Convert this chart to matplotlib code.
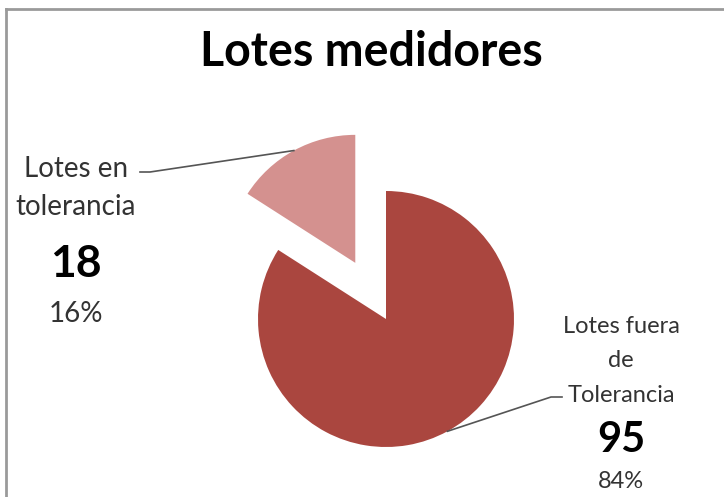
import math
import matplotlib
matplotlib.use('Agg')
import matplotlib.pyplot as plt
from matplotlib.lines import Line2D

# Datos
titulo = 'Lotes medidores'
etiquetas = ['Lotes en\ntolerancia', 'Lotes fuera\nde\nTolerancia']
valores = [18, 95]
colores = ['#D4918F', '#AA463F']

W, H = 724, 497
plt.rcParams['font.family'] = ['Lato', 'DejaVu Sans']

fig = plt.figure(figsize=(W / 100, H / 100), dpi=100)
ax = fig.add_axes([0, 0, 1, 1])


def py(y):
    # pasar coordenada de pixel (desde arriba) a coordenada del eje
    return H - y


radio = 128
centro = (386, py(319))
sep = 0.5 * radio

wedges, _ = ax.pie(valores, colors=colores, startangle=90, counterclock=True,
                   radius=radio, center=centro, explode=[sep, 0],
                   wedgeprops=dict(linewidth=0))
ax.set_xlim(0, W)
ax.set_ylim(0, H)
ax.set_aspect('auto')
ax.axis('off')

total = sum(valores)
gris = '#333333'

# posiciones de las etiquetas (centro x, lineas base y, tamanos de letra)
pos_texto = [
    (76, [177, 215], 277, 322, 20, 32),
    (621, [333, 367, 402], 452, 488, 17, 30),
]
# tramos de las lineas guia (codo, extremo junto al texto)
guias = [
    [(150, 172), (140, 172)],
    [(551, 397), (562, 397)],
]

for w, etq, val, (xc, ys, yn, yp, fs, fsn), guia in zip(wedges, etiquetas, valores, pos_texto, guias):
    for linea, yb in zip(etq.split('\n'), ys):
        ax.text(xc, py(yb), linea, ha='center', va='baseline', fontsize=fs, color=gris)
    ax.text(xc, py(yn), str(val), ha='center', va='baseline', fontsize=fsn,
            fontweight='bold', color='black')
    ax.text(xc, py(yp), f'{100 * val / total:.0f}%', ha='center', va='baseline',
            fontsize=fs, color=gris)
    # punto medio del arco de la porcion
    tm = math.radians((w.theta1 + w.theta2) / 2)
    cx, cy = w.center
    px = [cx + w.r * math.cos(tm)] + [p[0] for p in guia]
    pyy = [cy + w.r * math.sin(tm)] + [py(p[1]) for p in guia]
    ax.plot(px, pyy, color='#555555', lw=1.2)

ax.text(371, py(66), titulo, ha='center', va='baseline', fontsize=33.5,
        fontweight='bold', color='black')

# marco del grafico
fig.add_artist(Line2D([6 / W, 6 / W], [0, 1 - 9 / H], color='#9a9a9a', lw=2))
fig.add_artist(Line2D([6 / W, 1], [1 - 9 / H, 1 - 9 / H], color='#9a9a9a', lw=2))

fig.savefig('out.png', dpi=100)
